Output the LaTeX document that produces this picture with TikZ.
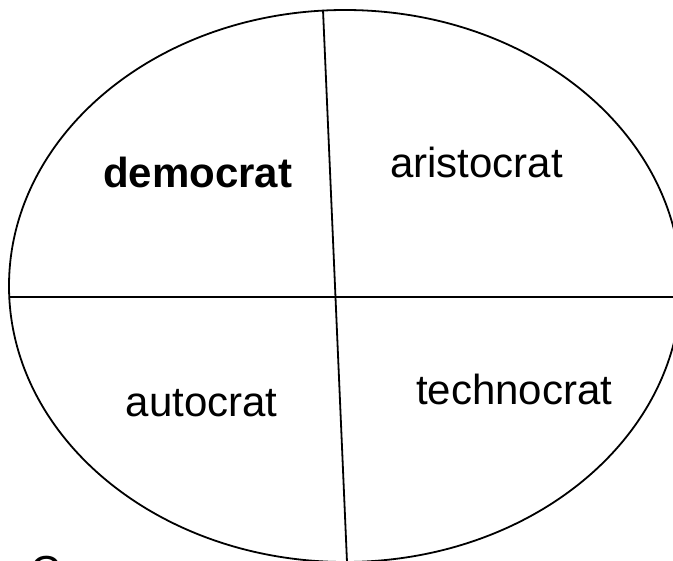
\documentclass[tikz,border=0pt]{standalone}
\usepackage{fontspec}
\setmainfont{Liberation Sans}
\usetikzlibrary{shapes.geometric}
\begin{document}
\begin{tikzpicture}[x=1pt,y=-1pt,
  outline/.style={draw=black,line width=1.8pt},
  divider/.style={draw=black,line width=1.8pt},
  label/.style={anchor=base west,inner sep=0pt,font=\fontsize{42}{50}\selectfont}]
\useasboundingbox (0,0) rectangle (673,561);
\clip (0,0) rectangle (673,561);
\node[outline,ellipse,minimum width=672pt,minimum height=552pt,inner sep=0pt] (E) at (345,286) {};
\coordinate (hl) at (9.5,297);
\coordinate (hr) at (681,297);
\coordinate (vt) at (323,10);
\coordinate (vb) at (347,562);
\draw[divider] (hl) -- (hr);
\draw[divider] (vt) -- (vb);
\node[label,font=\fontsize{42}{50}\selectfont\bfseries] (dem) at (103,188) {democrat};
\node[label] (ari) at (390,178) {aristocrat};
\node[label] (aut) at (125.5,417) {autocrat};
\node[label] (tec) at (416,405) {technocrat};
\node[label] (c) at (30,586) {C};
\end{tikzpicture}
\end{document}
